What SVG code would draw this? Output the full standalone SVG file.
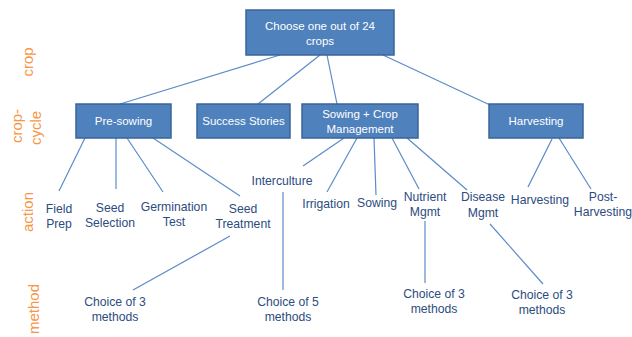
<svg xmlns="http://www.w3.org/2000/svg" width="632" height="337" viewBox="0 0 632 337">
  <style>
    .box { fill: #4f81bd; stroke: #3a649b; stroke-width: 1.5; }
    .bt { font-family: "Liberation Sans", Arial, sans-serif; font-size: 11.5px; fill: #ffffff; text-anchor: middle; }
    .lt { font-family: "Liberation Sans", Arial, sans-serif; font-size: 12.2px; fill: #2c4c80; text-anchor: middle; }
    .side { font-family: "Liberation Sans", Arial, sans-serif; font-size: 15px; fill: #f79646; text-anchor: middle; dominant-baseline: central; }
    .conn line { stroke: #5b8bc8; stroke-width: 1.2; }
  </style>
  <rect width="632" height="337" fill="#ffffff"/>

  <!-- level labels -->
  <g id="levels">
    <text class="side" transform="translate(27,62) rotate(-90)">crop</text>
    <text class="side" transform="translate(16,126) rotate(-90)">crop-</text>
    <text class="side" transform="translate(35,128) rotate(-90)">cycle</text>
    <text class="side" transform="translate(27,212) rotate(-90)">action</text>
    <text class="side" transform="translate(33,309) rotate(-90)">method</text>
  </g>

  <!-- connectors -->
  <g id="connectors" class="conn">
    <line x1="280" y1="55" x2="120" y2="104"/>
    <line x1="320" y1="55" x2="258" y2="104"/>
    <line x1="327" y1="55" x2="337" y2="104"/>
    <line x1="383" y1="55" x2="490" y2="105"/>
    <line x1="85" y1="138" x2="59" y2="191"/>
    <line x1="116" y1="138" x2="116" y2="189"/>
    <line x1="127" y1="138" x2="163" y2="192"/>
    <line x1="153" y1="138" x2="240" y2="196"/>
    <line x1="344" y1="138" x2="303" y2="166"/>
    <line x1="357" y1="138" x2="327" y2="192"/>
    <line x1="374" y1="138" x2="376" y2="195"/>
    <line x1="392" y1="138" x2="419" y2="189"/>
    <line x1="407" y1="138" x2="467" y2="190"/>
    <line x1="552" y1="139" x2="528" y2="187"/>
    <line x1="559" y1="138" x2="591" y2="189"/>
    <line x1="230" y1="236" x2="133" y2="290"/>
    <line x1="283" y1="192" x2="283" y2="290"/>
    <line x1="425" y1="221" x2="425" y2="283"/>
    <line x1="490" y1="224" x2="543" y2="284"/>
  </g>

  <!-- boxes -->
  <g id="root">
    <rect class="box" x="246" y="10" width="148" height="45"/>
    <text class="bt" x="320" y="30">Choose one out of 24</text>
    <text class="bt" x="320" y="45">crops</text>
  </g>
  <g id="pre-sowing">
    <rect class="box" x="76" y="104" width="95" height="34"/>
    <text class="bt" x="123.5" y="125">Pre-sowing</text>
  </g>
  <g id="success-stories">
    <rect class="box" x="197" y="104" width="93" height="34"/>
    <text class="bt" x="243.5" y="125">Success Stories</text>
  </g>
  <g id="sowing-crop-mgmt">
    <rect class="box" x="302" y="104" width="116" height="34"/>
    <text class="bt" x="360" y="118">Sowing + Crop</text>
    <text class="bt" x="360" y="133">Management</text>
  </g>
  <g id="harvesting-box">
    <rect class="box" x="489" y="104" width="94" height="34"/>
    <text class="bt" x="536" y="125">Harvesting</text>
  </g>

  <!-- actions -->
  <g id="field-prep"><text class="lt" x="59" y="213">Field</text><text class="lt" x="59" y="228">Prep</text></g>
  <g id="seed-selection"><text class="lt" x="110" y="212">Seed</text><text class="lt" x="110" y="227">Selection</text></g>
  <g id="germination-test"><text class="lt" x="174" y="211">Germination</text><text class="lt" x="174" y="226">Test</text></g>
  <g id="seed-treatment"><text class="lt" x="243" y="213">Seed</text><text class="lt" x="243" y="228">Treatment</text></g>
  <g id="interculture"><text class="lt" x="282" y="185">Interculture</text></g>
  <g id="irrigation"><text class="lt" x="326" y="208">Irrigation</text></g>
  <g id="sowing"><text class="lt" x="377" y="207">Sowing</text></g>
  <g id="nutrient-mgmt"><text class="lt" x="425" y="201">Nutrient</text><text class="lt" x="425" y="216">Mgmt</text></g>
  <g id="disease-mgmt"><text class="lt" x="483" y="201">Disease</text><text class="lt" x="483" y="217">Mgmt</text></g>
  <g id="harvesting"><text class="lt" x="540" y="204">Harvesting</text></g>
  <g id="post-harvesting"><text class="lt" x="603" y="201">Post-</text><text class="lt" x="603" y="216">Harvesting</text></g>

  <!-- methods -->
  <g id="methods-seed"><text class="lt" x="115" y="306">Choice of 3</text><text class="lt" x="115" y="321">methods</text></g>
  <g id="methods-interculture"><text class="lt" x="288" y="306">Choice of 5</text><text class="lt" x="288" y="321">methods</text></g>
  <g id="methods-nutrient"><text class="lt" x="434" y="298">Choice of 3</text><text class="lt" x="434" y="313">methods</text></g>
  <g id="methods-disease"><text class="lt" x="542" y="299">Choice of 3</text><text class="lt" x="542" y="314">methods</text></g>
</svg>
